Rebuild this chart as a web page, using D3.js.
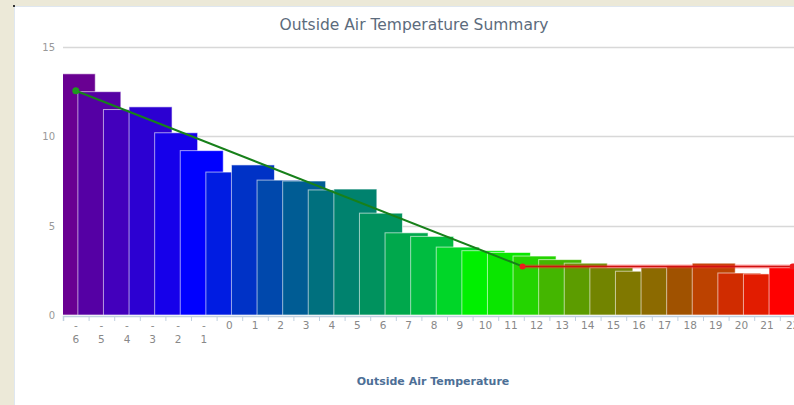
<!DOCTYPE html>
<html>
<head>
<meta charset="utf-8">
<script src="https://cdn.jsdelivr.net/npm/d3@7"></script>
<style>
  body { margin: 0; background: #ece9d8; overflow: hidden; }
  svg { display: block; }
</style>
</head>
<body>
<script>
var w = 794;
var h = 405;

// categories (outside air temperature bins) and bar heights
var temps = [-6, -5, -4, -3, -2, -1, 0, 1, 2, 3, 4, 5, 6, 7, 8, 9, 10, 11, 12, 13, 14, 15, 16, 17, 18, 19, 20, 21, 22];
var values = [13.5, 12.5, 11.5, 11.65, 10.2, 9.2, 8.0, 8.4, 7.55, 7.5, 7.0, 7.05, 5.7, 4.6, 4.4, 3.8, 3.6, 3.5, 3.3, 3.1, 2.9, 2.65, 2.45, 2.65, 2.75, 2.9, 2.35, 2.3, 2.65];
var barColors = ["#690092", "#5500a4", "#4300bc", "#2c00d2", "#1600ea", "#0000ff", "#001ce2", "#0032c6", "#0048ac",
                 "#005c94", "#00707e", "#00826e", "#00925e", "#00a84c", "#00bc40", "#00d628", "#00f000", "#0ae600",
                 "#24d400", "#44b600", "#5c9c00", "#728400", "#807800", "#8c6a00", "#a05200", "#bc4200", "#d02c00",
                 "#e21c00", "#ff0000"];

// trend lines
var coldX = [-6, 11.45];
var coldY = [12.55, 2.72];
var warmX = [11.45, 22];
var warmY = [2.72, 2.72];

var yTicks = [0, 5, 10, 15];

var plotLeft = 63, plotBottom = 315, plotTop = 47;
var band = 25.6;
var plotRight = plotLeft + temps.length * band;

var svg = d3.select("body")
            .append("svg")
            .attr("width", w)
            .attr("height", h);

// chart container
svg.append("rect")
   .attr("x", 14.5).attr("y", 6.5)
   .attr("width", w).attr("height", h)
   .attr("fill", "#fff")
   .attr("stroke", "#dfe7f0");
svg.append("rect").attr("x", 13).attr("y", 5).attr("width", 2).attr("height", 2).attr("fill", "#333");

var xScale = d3.scaleBand()
               .domain(temps)
               .range([plotLeft, plotRight])
               .padding(0);

var xLin = d3.scaleLinear()
             .domain([temps[0] - 0.5, temps[temps.length - 1] + 0.5])
             .range([plotLeft, plotRight]);

var yScale = d3.scaleLinear()
               .domain([0, 15])
               .range([plotBottom, plotTop]);

// grid lines
svg.append("g")
   .selectAll("line")
   .data(yTicks.slice(1))
   .enter()
   .append("line")
   .attr("x1", plotLeft).attr("x2", plotRight)
   .attr("y1", function(d) { return Math.round(yScale(d)) + 0.5; })
   .attr("y2", function(d) { return Math.round(yScale(d)) + 0.5; })
   .attr("stroke", "#d8d8d8")
   .attr("stroke-width", 1.5);

// y labels
svg.append("g")
   .selectAll("text")
   .data(yTicks)
   .enter()
   .append("text")
   .attr("x", 55)
   .attr("y", function(d) { return yScale(d) + 4; })
   .attr("text-anchor", "end")
   .attr("font-family", "DejaVu Sans, sans-serif")
   .attr("font-size", "10px")
   .attr("fill", "#999")
   .text(function(d) { return d; });

svg.append("clipPath")
   .attr("id", "plot")
   .append("rect")
   .attr("x", plotLeft).attr("y", 0)
   .attr("width", plotRight - plotLeft).attr("height", plotBottom);

// bars: wider than the band, shifted left, later ones drawn on top
var bw = xScale.bandwidth();
svg.append("g")
   .attr("clip-path", "url(#plot)")
   .selectAll("rect")
   .data(temps)
   .enter()
   .append("rect")
   .attr("x", function(d) { return xScale(d) + bw / 2 - 0.92 * bw; })
   .attr("y", function(d, i) { return yScale(values[i]); })
   .attr("width", 1.68 * bw)
   .attr("height", function(d, i) { return plotBottom - yScale(values[i]); })
   .attr("fill", function(d, i) { return barColors[i]; })
   .attr("stroke", "rgba(255,255,255,0.6)")
   .attr("stroke-width", 1);

// x axis line + ticks at category boundaries
var xAxis = d3.axisBottom(xLin)
              .tickValues(d3.range(temps.length + 1).map(function(i) { return temps[0] - 0.5 + i; }))
              .tickSize(5)
              .tickFormat("");
var gx = svg.append("g")
            .attr("transform", "translate(0," + (plotBottom + 1) + ")")
            .call(xAxis);
gx.select(".domain").attr("stroke", "#c0d0e0").attr("stroke-width", 1.5);
gx.selectAll(".tick line").attr("stroke", "#c0d0e0");

// x labels (negative values wrap onto two lines)
var labels = svg.append("g")
                .selectAll("text")
                .data(temps)
                .enter()
                .append("text")
                .attr("x", function(d) { return xScale(d) + bw / 2; })
                .attr("y", plotBottom + 14)
                .attr("text-anchor", "middle")
                .attr("font-family", "DejaVu Sans, sans-serif")
                .attr("font-size", "10.5px")
                .attr("fill", "#888");
labels.each(function(d) {
    var t = d3.select(this);
    if (d < 0) {
        t.append("tspan").attr("x", xScale(d) + bw / 2).text("-");
        t.append("tspan").attr("x", xScale(d) + bw / 2).attr("dy", 14).text(-d);
    } else {
        t.text(d);
    }
});

// trend lines
var line = d3.line()
             .x(function(d) { return xLin(d[0]); })
             .y(function(d) { return yScale(d[1]); });

var coldPts = d3.zip(coldX, coldY);
var warmPts = d3.zip(warmX, warmY);

svg.append("path")
   .attr("d", line(warmPts))
   .attr("fill", "none")
   .attr("stroke", "rgba(255,60,60,0.45)")
   .attr("stroke-width", 4);
svg.append("path")
   .attr("d", line(warmPts))
   .attr("fill", "none")
   .attr("stroke", "#d01010")
   .attr("stroke-width", 1.5);
svg.append("path")
   .attr("d", line(coldPts))
   .attr("fill", "none")
   .attr("stroke", "#17801a")
   .attr("stroke-width", 2);

svg.selectAll(".cold-dot")
   .data(coldPts.slice(0, 1))
   .enter()
   .append("circle")
   .attr("cx", function(d) { return xLin(d[0]); })
   .attr("cy", function(d) { return yScale(d[1]); })
   .attr("r", 3.5)
   .attr("fill", "#1e9a1e");
svg.selectAll(".warm-dot")
   .data(warmPts)
   .enter()
   .append("circle")
   .attr("cx", function(d) { return xLin(d[0]); })
   .attr("cy", function(d) { return yScale(d[1]); })
   .attr("r", 3)
   .attr("fill", "#ee1c1c");

// titles
svg.append("text")
   .attr("x", 414)
   .attr("y", 30)
   .attr("text-anchor", "middle")
   .attr("font-family", "DejaVu Sans, sans-serif")
   .attr("font-size", "15.5px")
   .attr("fill", "#5c6b7c")
   .text("Outside Air Temperature Summary");

svg.append("text")
   .attr("x", 433)
   .attr("y", 385)
   .attr("text-anchor", "middle")
   .attr("font-family", "DejaVu Sans, sans-serif")
   .attr("font-size", "11px")
   .attr("font-weight", "bold")
   .attr("fill", "#4d6f96")
   .text("Outside Air Temperature");
</script>
</body>
</html>
